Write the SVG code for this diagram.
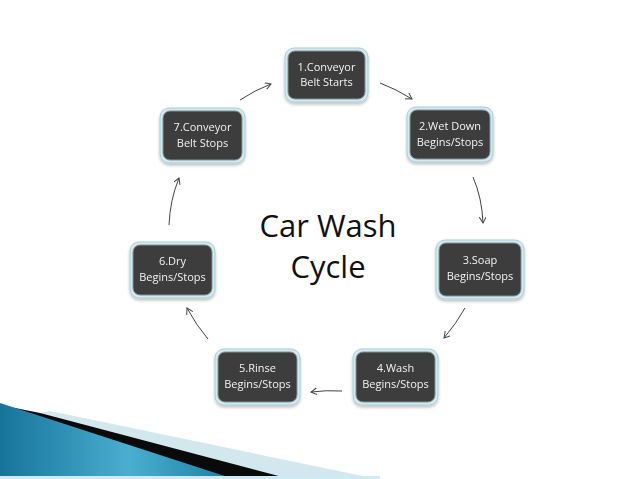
<svg xmlns="http://www.w3.org/2000/svg" width="638" height="479" viewBox="0 0 638 479">
<defs>
<style>
.outer{fill:#d4eaf0;stroke:#a6cdd8;stroke-width:1}
.inner{fill:#3d3d3d;stroke:#7f9195;stroke-width:1}
.lbl{font-family:"Open Sans","DejaVu Sans",sans-serif;font-size:11px;fill:#f2f2f2;text-anchor:middle}
.title{font-family:"Open Sans","DejaVu Sans",sans-serif;font-size:31px;fill:#111;text-anchor:middle}
.conn{fill:none;stroke:#444;stroke-width:1;marker-end:url(#ah)}
</style>
<marker id="ah" markerWidth="8" markerHeight="8" refX="6" refY="3.5" orient="auto" markerUnits="userSpaceOnUse">
<path d="M0,0 L6,3.5 L0,7" fill="none" stroke="#444" stroke-width="1"/>
</marker>
<filter id="sh" x="-10%" y="-10%" width="120%" height="130%">
<feDropShadow dx="0" dy="2" stdDeviation="1.5" flood-color="#000" flood-opacity="0.25"/>
</filter>
<linearGradient id="bl" x1="0" y1="0" x2="1" y2="0">
<stop offset="0" stop-color="#17739a"/>
<stop offset="0.55" stop-color="#4aaed0"/>
<stop offset="1" stop-color="#1a7fa3"/>
</linearGradient>
</defs>
<rect width="638" height="479" fill="#fff"/>
<g id="decor">
<polygon points="50,411 377,479 0,479 0,420" fill="#d3e7ef"/>
<polygon points="40,413 290,479 0,479 0,405" fill="#0a0a0a"/>
<polygon points="0,403 234,479 0,479" fill="url(#bl)"/>
<rect x="0" y="476" width="380" height="3" fill="#cfeaf2"/>
</g>
<g id="title">
<text class="title" x="328" y="237">Car Wash</text>
<text class="title" x="328" y="278">Cycle</text>
</g>
<g id="connectors">
<path class="conn" d="M240,100 Q255,90 271,84"/>
<path class="conn" d="M380,83 Q396,89 412,99"/>
<path class="conn" d="M473,177 Q482,198 483,223"/>
<path class="conn" d="M465,308 Q456,324 444,338"/>
<path class="conn" d="M342,391 Q326,390 311,392"/>
<path class="conn" d="M208,339 Q196,325 187,308"/>
<path class="conn" d="M169,225 Q170,200 179,178"/>
</g>
<g id="n1" filter="url(#sh)">
<rect class="outer" x="285" y="48" width="83" height="54" rx="9"/>
<rect class="inner" x="288" y="51" width="77" height="48" rx="7"/>
<text class="lbl" x="326.5" y="71">1.Conveyor</text>
<text class="lbl" x="326.5" y="86">Belt Starts</text>
</g>
<g id="n2" filter="url(#sh)">
<rect class="outer" x="407" y="107" width="86" height="55" rx="9"/>
<rect class="inner" x="410" y="110" width="80" height="49" rx="7"/>
<text class="lbl" x="450" y="130">2.Wet Down</text>
<text class="lbl" x="450" y="146">Begins/Stops</text>
</g>
<g id="n3" filter="url(#sh)">
<rect class="outer" x="436" y="240" width="88" height="59" rx="9"/>
<rect class="inner" x="439" y="243" width="82" height="53" rx="7"/>
<text class="lbl" x="480" y="264">3.Soap</text>
<text class="lbl" x="480" y="280">Begins/Stops</text>
</g>
<g id="n4" filter="url(#sh)">
<rect class="outer" x="353" y="349" width="85" height="56" rx="9"/>
<rect class="inner" x="356" y="352" width="79" height="50" rx="7"/>
<text class="lbl" x="395.5" y="372">4.Wash</text>
<text class="lbl" x="395.5" y="388">Begins/Stops</text>
</g>
<g id="n5" filter="url(#sh)">
<rect class="outer" x="215" y="349" width="85" height="56" rx="9"/>
<rect class="inner" x="218" y="352" width="79" height="50" rx="7"/>
<text class="lbl" x="257.5" y="372">5.Rinse</text>
<text class="lbl" x="257.5" y="388">Begins/Stops</text>
</g>
<g id="n6" filter="url(#sh)">
<rect class="outer" x="130" y="242" width="85" height="56" rx="9"/>
<rect class="inner" x="133" y="245" width="79" height="50" rx="7"/>
<text class="lbl" x="172.5" y="265">6.Dry</text>
<text class="lbl" x="172.5" y="281">Begins/Stops</text>
</g>
<g id="n7" filter="url(#sh)">
<rect class="outer" x="160" y="108" width="85" height="55" rx="9"/>
<rect class="inner" x="163" y="111" width="79" height="49" rx="7"/>
<text class="lbl" x="202.5" y="131">7.Conveyor</text>
<text class="lbl" x="202.5" y="147">Belt Stops</text>
</g>
</svg>
